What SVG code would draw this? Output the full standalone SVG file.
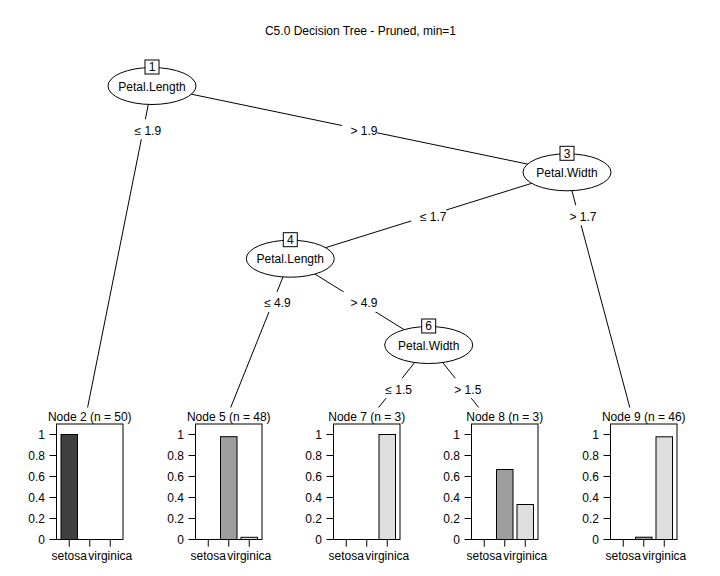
<svg xmlns="http://www.w3.org/2000/svg" width="720" height="576" viewBox="0 0 720 576">
<style>
text { font-family: "Liberation Sans", Arial, Helvetica, sans-serif; font-size: 12px; fill: #000; }
.mid { text-anchor: middle; }
.end { text-anchor: end; }
.edge { stroke: #000; stroke-width: 1; fill: none; }
.lblbg { fill: #fff; stroke: none; }
.ell { fill: #fff; stroke: #000; stroke-width: 1; }
.idbox { fill: #fff; stroke: #000; stroke-width: 1; }
.frame { fill: none; stroke: #000; stroke-width: 1; }
.tick { stroke: #000; stroke-width: 1; }
.c1 { fill: #404040; stroke: #000; stroke-width: 1; }
.c2 { fill: #9e9e9e; stroke: #000; stroke-width: 1; }
.c3 { fill: #dedede; stroke: #000; stroke-width: 1; }
</style>
<rect width="720" height="576" fill="#fff"/>
<text class="mid" x="360.5" y="34.5">C5.0 Decision Tree - Pruned, min=1</text>

<g id="connectors">
  <line class="edge" x1="152" y1="86" x2="87.6" y2="407.5"/>
  <line class="edge" x1="152" y1="86" x2="567" y2="172.3"/>
  <line class="edge" x1="567" y1="172.3" x2="290.3" y2="258.7"/>
  <line class="edge" x1="567" y1="172.3" x2="629.8" y2="407.5"/>
  <line class="edge" x1="290.3" y1="258.7" x2="230.7" y2="407.5"/>
  <line class="edge" x1="290.3" y1="258.7" x2="428.7" y2="345"/>
  <line class="edge" x1="428.7" y1="345" x2="378.6" y2="407.5"/>
  <line class="edge" x1="428.7" y1="345" x2="478.7" y2="407.5"/>
  <rect class="lblbg" x="125.8" y="119.2" width="35" height="20"/>
  <text class="mid" x="147.8" y="134.7">≤ 1.9</text>
  <rect class="lblbg" x="342" y="119.2" width="35" height="20"/>
  <text class="mid" x="364" y="134.7">&gt; 1.9</text>
  <rect class="lblbg" x="411.2" y="205.3" width="35" height="20"/>
  <text class="mid" x="433.2" y="220.8">≤ 1.7</text>
  <rect class="lblbg" x="561" y="205.3" width="35" height="20"/>
  <text class="mid" x="583" y="220.8">&gt; 1.7</text>
  <rect class="lblbg" x="255.5" y="291.9" width="35" height="20"/>
  <text class="mid" x="277.5" y="307.4">≤ 4.9</text>
  <rect class="lblbg" x="342" y="291.9" width="35" height="20"/>
  <text class="mid" x="364" y="307.4">&gt; 4.9</text>
  <rect class="lblbg" x="376.6" y="378.2" width="35" height="20"/>
  <text class="mid" x="398.6" y="393.7">≤ 1.5</text>
  <rect class="lblbg" x="445.8" y="378.2" width="35" height="20"/>
  <text class="mid" x="467.8" y="393.7">&gt; 1.5</text>
</g>

<g id="node1">
  <ellipse class="ell" cx="152" cy="86" rx="44" ry="18.5"/>
  <text class="mid" x="152" y="90.5">Petal.Length</text>
  <rect class="idbox" x="145" y="60" width="14" height="14"/>
  <text class="mid" x="152" y="71.3">1</text>
</g>
<g id="node3">
  <ellipse class="ell" cx="567" cy="172.3" rx="44" ry="18.5"/>
  <text class="mid" x="567" y="176.8">Petal.Width</text>
  <rect class="idbox" x="560" y="146.3" width="14" height="14"/>
  <text class="mid" x="567" y="157.6">3</text>
</g>
<g id="node4">
  <ellipse class="ell" cx="290.3" cy="258.7" rx="44" ry="18.5"/>
  <text class="mid" x="290.3" y="263.2">Petal.Length</text>
  <rect class="idbox" x="283.3" y="232.7" width="14" height="14"/>
  <text class="mid" x="290.3" y="244">4</text>
</g>
<g id="node6">
  <ellipse class="ell" cx="428.7" cy="345" rx="44" ry="18.5"/>
  <text class="mid" x="428.7" y="349.5">Petal.Width</text>
  <rect class="idbox" x="421.7" y="319" width="14" height="14"/>
  <text class="mid" x="428.7" y="330.3">6</text>
</g>

<defs>
  <g id="yaxis">
    <line class="tick" x1="-7" y1="539.5" x2="0" y2="539.5"/>
    <line class="tick" x1="-7" y1="518.5" x2="0" y2="518.5"/>
    <line class="tick" x1="-7" y1="497.5" x2="0" y2="497.5"/>
    <line class="tick" x1="-7" y1="476.5" x2="0" y2="476.5"/>
    <line class="tick" x1="-7" y1="455.5" x2="0" y2="455.5"/>
    <line class="tick" x1="-7" y1="434.5" x2="0" y2="434.5"/>
    <line class="tick" x1="0" y1="434.5" x2="0" y2="539.5"/>
    <text class="end" x="-11.5" y="543.8">0</text>
    <text class="end" x="-11.5" y="522.8">0.2</text>
    <text class="end" x="-11.5" y="501.8">0.4</text>
    <text class="end" x="-11.5" y="480.8">0.6</text>
    <text class="end" x="-11.5" y="459.8">0.8</text>
    <text class="end" x="-11.5" y="438.8">1</text>
    <line class="tick" x1="12.75" y1="539.5" x2="12.75" y2="546.7"/>
    <line class="tick" x1="33.25" y1="539.5" x2="33.25" y2="546.7"/>
    <line class="tick" x1="53.75" y1="539.5" x2="53.75" y2="546.7"/>
    <text class="mid" x="12.75" y="560">setosa</text>
    <text class="mid" x="53.75" y="560">virginica</text>
  </g>
</defs>

<g id="node2" transform="translate(56.5,0)">
  <use href="#yaxis"/>
  <text class="mid" x="33.25" y="420.5">Node 2 (n = 50)</text>
  <rect class="c1" x="4.5" y="434.5" width="16.5" height="105"/>
  <line class="tick" x1="25" y1="539.5" x2="41.5" y2="539.5"/>
  <line class="tick" x1="45.5" y1="539.5" x2="62" y2="539.5"/>
  <rect class="frame" x="0" y="424" width="66.5" height="115.5"/>
</g>
<g id="node5" transform="translate(195.5,0)">
  <use href="#yaxis"/>
  <text class="mid" x="33.25" y="420.5">Node 5 (n = 48)</text>
  <line class="tick" x1="4.5" y1="539.5" x2="21" y2="539.5"/>
  <rect class="c2" x="25" y="436.7" width="16.5" height="102.8"/>
  <rect class="c3" x="45.5" y="537.3" width="16.5" height="2.2"/>
  <rect class="frame" x="0" y="424" width="66.5" height="115.5"/>
</g>
<g id="node7" transform="translate(333.5,0)">
  <use href="#yaxis"/>
  <text class="mid" x="33.25" y="420.5">Node 7 (n = 3)</text>
  <line class="tick" x1="4.5" y1="539.5" x2="21" y2="539.5"/>
  <line class="tick" x1="25" y1="539.5" x2="41.5" y2="539.5"/>
  <rect class="c3" x="45.5" y="434.5" width="16.5" height="105"/>
  <rect class="frame" x="0" y="424" width="66.5" height="115.5"/>
</g>
<g id="node8" transform="translate(471.5,0)">
  <use href="#yaxis"/>
  <text class="mid" x="33.25" y="420.5">Node 8 (n = 3)</text>
  <line class="tick" x1="4.5" y1="539.5" x2="21" y2="539.5"/>
  <rect class="c2" x="25" y="469.5" width="16.5" height="70"/>
  <rect class="c3" x="45.5" y="504.5" width="16.5" height="35"/>
  <rect class="frame" x="0" y="424" width="66.5" height="115.5"/>
</g>
<g id="node9" transform="translate(610.5,0)">
  <use href="#yaxis"/>
  <text class="mid" x="33.25" y="420.5">Node 9 (n = 46)</text>
  <line class="tick" x1="4.5" y1="539.5" x2="21" y2="539.5"/>
  <rect class="c2" x="25" y="537.2" width="16.5" height="2.3"/>
  <rect class="c3" x="45.5" y="436.8" width="16.5" height="102.7"/>
  <rect class="frame" x="0" y="424" width="66.5" height="115.5"/>
</g>
</svg>
